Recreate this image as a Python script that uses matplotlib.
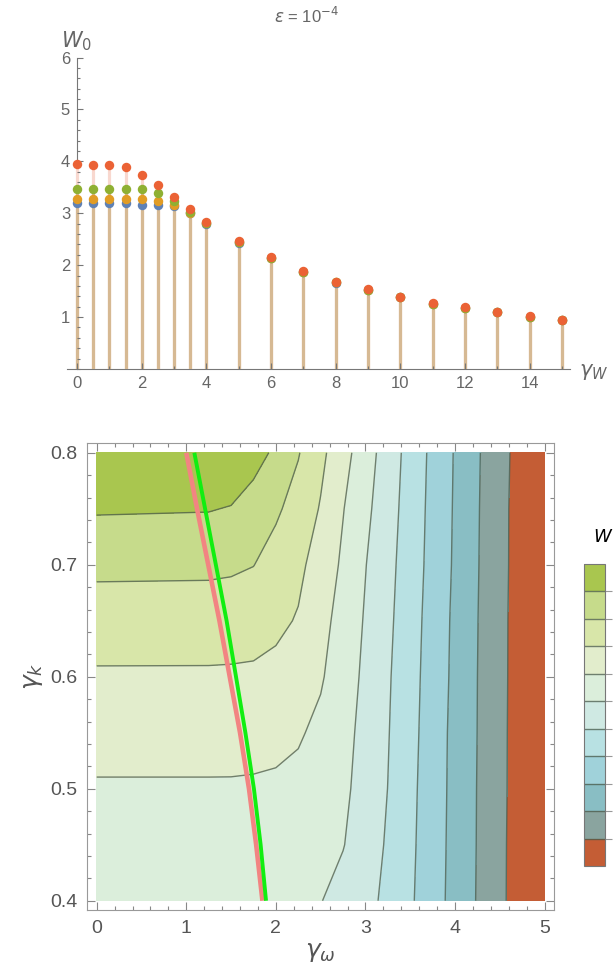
import numpy as np
import matplotlib
matplotlib.use('Agg')
import matplotlib.pyplot as plt
from matplotlib.ticker import MultipleLocator, NullFormatter

plt.rcParams['font.family'] = ['Liberation Sans', 'DejaVu Sans']
plt.rcParams['mathtext.fontset'] = 'dejavusans'

# ---- top panel: W0 against gamma_W ----
gw = [0, 0.5, 1, 1.5, 2, 2.5, 3, 3.5, 4, 5, 6, 7, 8, 9, 10, 11, 12, 13, 14, 15]
w_blue = [3.19, 3.19, 3.19, 3.19, 3.16, 3.16, 3.13, 3.00, 2.80, 2.43, 2.13, 1.86,
          1.66, 1.52, 1.38, 1.26, 1.17, 1.09, 1.01, 0.94]
w_orange = [3.27, 3.27, 3.27, 3.27, 3.27, 3.24, 3.16, 3.01, 2.81, 2.44, 2.13, 1.86,
            1.67, 1.53, 1.38, 1.26, 1.18, 1.09, 1.01, 0.94]
w_green = [3.47, 3.47, 3.47, 3.47, 3.47, 3.39, 3.24, 3.02, 2.82, 2.45, 2.14, 1.87,
           1.67, 1.53, 1.38, 1.26, 1.18, 1.09, 1.01, 0.94]
w_red = [3.94, 3.92, 3.92, 3.89, 3.74, 3.54, 3.31, 3.08, 2.84, 2.47, 2.15, 1.88,
         1.68, 1.54, 1.39, 1.27, 1.19, 1.10, 1.02, 0.95]
series_colors = ['#5e81b5', '#e19c24', '#8fb032', '#eb6235']

# ---- bottom panel: contour of W0 over (gamma_omega, gamma_k) ----
g_omega = [0, 1.25, 1.5, 1.75, 2.0, 2.25, 2.5, 2.75, 3.0, 3.25, 3.5, 3.75, 4.0,
           4.25, 4.5, 4.75, 5.0]
g_k = [0.40, 0.45, 0.50, 0.55, 0.60, 0.65, 0.70, 0.75, 0.80]
W = [
    [6.30, 6.30, 6.30, 6.28, 6.22, 6.14, 6.03, 5.67, 5.27, 4.79, 4.13, 3.41, 2.68, 1.94, 1.21, 0.47, -0.28],
    [6.60, 6.60, 6.60, 6.58, 6.55, 6.48, 6.35, 6.04, 5.48, 4.89, 4.19, 3.45, 2.70, 1.96, 1.22, 0.48, -0.27],
    [6.90, 6.90, 6.90, 6.88, 6.85, 6.75, 6.55, 6.20, 5.62, 4.99, 4.24, 3.48, 2.72, 1.97, 1.24, 0.50, -0.25],
    [7.38, 7.38, 7.37, 7.34, 7.25, 7.10, 6.78, 6.29, 5.73, 5.05, 4.30, 3.52, 2.73, 1.99, 1.25, 0.50, -0.25],
    [7.88, 7.88, 7.87, 7.85, 7.75, 7.55, 7.10, 6.47, 5.81, 5.11, 4.35, 3.57, 2.78, 2.00, 1.26, 0.52, -0.22],
    [8.50, 8.48, 8.45, 8.38, 8.20, 7.93, 7.31, 6.64, 5.91, 5.20, 4.42, 3.61, 2.81, 2.02, 1.27, 0.52, -0.22],
    [9.22, 9.20, 9.15, 9.02, 8.62, 8.20, 7.61, 6.84, 6.03, 5.29, 4.50, 3.68, 2.87, 2.05, 1.29, 0.55, -0.20],
    [10.10, 10.05, 9.95, 9.51, 9.15, 8.62, 7.93, 7.04, 6.23, 5.41, 4.57, 3.72, 2.90, 2.07, 1.30, 0.55, -0.20],
    [10.90, 10.90, 10.80, 10.45, 9.79, 9.06, 8.23, 7.36, 6.44, 5.54, 4.64, 3.77, 2.93, 2.10, 1.33, 0.60, -0.20],
]
levels = [-1, 1, 2, 3, 4, 5, 6, 7, 8, 9, 10, 12]
fill_colors = ['#c45d35', '#8aa49f', '#89bec4', '#a0d2da', '#b8e1e3', '#cfe9e3',
               '#dbeedb', '#e2edcc', '#d8e6a9', '#c6db8b', '#a9c64f']

# the two boundary curves
curve_k = [0.40, 0.45, 0.50, 0.55, 0.60, 0.65, 0.70, 0.75, 0.80]
pink_omega = [1.85, 1.78, 1.70, 1.60, 1.485, 1.37, 1.245, 1.12, 1.00]
lime_omega = [1.89, 1.83, 1.755, 1.66, 1.555, 1.45, 1.33, 1.21, 1.09]

fig = plt.figure(figsize=(6.13, 9.73), dpi=100)
grey = '#666666'

# ---------------- top ----------------
ax1 = fig.add_axes([0.1093, 0.6208, 0.8206, 0.3201])
stem_top = np.maximum(np.maximum(w_blue, w_orange), w_green)
ax1.vlines(gw, 0, w_red, color='#f8d8cf', lw=2.3, zorder=1)
ax1.vlines(gw, 0, stem_top, color='#d6b993', lw=2.3, zorder=1.1)
for vals, c in zip([w_blue, w_orange, w_green, w_red], series_colors):
    ax1.plot(gw, vals, 'o', ms=6.8, color=c, mec='none', zorder=3)
ax1.set_xlim(-0.31, 15.25)
ax1.set_ylim(0, 6)
ax1.spines['left'].set_position(('data', 0))
ax1.spines[['top', 'right']].set_visible(False)
for s in ['left', 'bottom']:
    ax1.spines[s].set_color('#777777')
    ax1.spines[s].set_zorder(0.5)
ax1.xaxis.set_major_locator(MultipleLocator(2))
ax1.xaxis.set_minor_locator(MultipleLocator(1))
ax1.yaxis.set_major_locator(MultipleLocator(1))
ax1.yaxis.set_minor_locator(MultipleLocator(0.2))
ax1.set_yticks([1, 2, 3, 4, 5, 6])
ax1.tick_params(which='both', direction='in', colors='#777777', labelcolor=grey,
                labelsize=12, width=0.8)
ax1.tick_params(which='major', length=4.5, pad=5)
ax1.tick_params(which='minor', length=2.5)
fig.text(0.099, 0.958, r'$W_0$', fontsize=15, color=grey, ha='left', va='center')
fig.text(0.945, 0.618, r'$\gamma_W$', fontsize=15, color=grey, ha='left', va='center')
fig.text(0.5, 0.984, r'$\epsilon$ = 10$^{-4}$', fontsize=12, color=grey,
         ha='center', va='center')

# ---------------- bottom ----------------
ax2 = fig.add_axes([0.1424, 0.0647, 0.7614, 0.48])
cs = ax2.contourf(g_omega, g_k, W, levels=levels, colors=fill_colors)
cl = ax2.contour(g_omega, g_k, W, levels=levels[1:-1], colors='#4a5a4a',
                 linewidths=1.0, alpha=0.75)
ax2.plot(pink_omega, curve_k, color='#f28482', lw=3.3, solid_capstyle='butt')
ax2.plot(lime_omega, curve_k, color='#11ee11', lw=2.8, solid_capstyle='butt')
ax2.set_xlim(-0.105, 5.105)
ax2.set_ylim(0.3917, 0.8087)
for s in ax2.spines.values():
    s.set_color('#999999')
ax2.xaxis.set_major_locator(MultipleLocator(1))
ax2.xaxis.set_minor_locator(MultipleLocator(0.2))
ax2.yaxis.set_major_locator(MultipleLocator(0.1))
ax2.yaxis.set_minor_locator(MultipleLocator(0.02))
ax2.set_yticks([0.4, 0.5, 0.6, 0.7, 0.8])
ax2.set_yticklabels(['0.4', '0.5', '0.6', '0.7', '0.8'])
ax2.tick_params(which='both', direction='in', top=True, right=True,
                colors='#888888', labelcolor='#555555', labelsize=14, width=0.8)
ax2.tick_params(which='major', length=6, pad=7)
ax2.tick_params(which='minor', length=3)
ax2.set_xlabel(r'$\gamma_\omega$', fontsize=18, color='#555555', labelpad=2)
ax2.set_ylabel(r'$\gamma_k$', fontsize=18, color='#555555', labelpad=4)

cax = fig.add_axes([0.9527, 0.110, 0.0343, 0.3104])
cb = fig.colorbar(cs, cax=cax)
cb.add_lines(cl)
cb.set_ticks(levels[1:-1])
cb.ax.yaxis.set_major_formatter(NullFormatter())
cb.ax.tick_params(length=5, color='#999999', width=0.8)
cb.outline.set_edgecolor('#777777')
fig.text(0.967, 0.448, r'$W$', fontsize=13, color='black', ha='left', va='center')

fig.savefig('out.png', dpi=100)
